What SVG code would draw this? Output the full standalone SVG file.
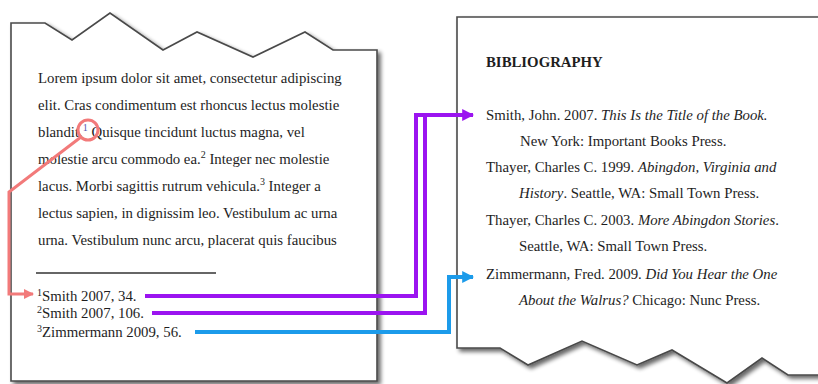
<svg xmlns="http://www.w3.org/2000/svg" width="818" height="384" viewBox="0 0 818 384">
  <style>
    .page { fill: #ffffff; stroke: #4a4a4a; stroke-width: 1.6; stroke-linejoin: miter; }
    .txt { font-family: "Liberation Serif", "Times New Roman", serif; font-size: 14.8px; fill: #1e1e1e; }
    .bold { font-weight: bold; }
    .it { font-style: italic; }
    .sup { font-size: 10px; }
    .rule { stroke: #333; stroke-width: 1.5; }
    .purple { fill: none; stroke: #9b14f0; stroke-width: 4; }
    .blue { fill: none; stroke: #1c9bea; stroke-width: 4; }
    .pink { fill: none; stroke: #f27a7a; stroke-width: 3; }
  </style>
  <defs>
    <filter id="shadow" x="-10%" y="-10%" width="120%" height="120%">
      <feGaussianBlur in="SourceAlpha" stdDeviation="2"/>
      <feOffset dx="3" dy="3" result="b"/>
      <feComponentTransfer><feFuncA type="linear" slope="0.6"/></feComponentTransfer>
      <feMerge><feMergeNode/><feMergeNode in="SourceGraphic"/></feMerge>
    </filter>
    <marker id="arPurple" viewBox="0 0 10 10" refX="9" refY="5" markerWidth="3" markerHeight="3" markerUnits="strokeWidth" orient="auto">
      <path d="M0,0 L10,5 L0,10 Z" fill="#9b14f0"/>
    </marker>
    <marker id="arBlue" viewBox="0 0 10 10" refX="9" refY="5" markerWidth="3" markerHeight="3" markerUnits="strokeWidth" orient="auto">
      <path d="M0,0 L10,5 L0,10 Z" fill="#1c9bea"/>
    </marker>
    <marker id="arPink" viewBox="0 0 10 10" refX="9" refY="5" markerWidth="3.4" markerHeight="3.4" markerUnits="strokeWidth" orient="auto">
      <path d="M0,0 L10,5 L0,10 Z" fill="#f27a7a"/>
    </marker>
  </defs>
  <rect width="818" height="384" fill="#ffffff"/>

  <g id="text-page">
    <path class="page" filter="url(#shadow)" d="M11,23 L45,23 L72,40 L110,13 L163,50 L197,32 L253,57 L305,32 L333,50 L377,50 L377,381 L11,381 Z"/>
    <text class="txt" x="38" y="83">Lorem ipsum dolor sit amet, consectetur adipiscing</text>
    <text class="txt" x="38" y="110">elit. Cras condimentum est rhoncus lectus molestie</text>
    <text class="txt" x="38" y="137">blandit.<tspan class="sup" dy="-6" fill="#5a55b0">1</tspan><tspan dy="6"> Quisque tincidunt luctus magna, vel</tspan></text>
    <text class="txt" x="38" y="164">molestie arcu commodo ea.<tspan class="sup" dy="-6">2</tspan><tspan dy="6"> Integer nec molestie</tspan></text>
    <text class="txt" x="38" y="191">lacus. Morbi sagittis rutrum vehicula.<tspan class="sup" dy="-6">3</tspan><tspan dy="6"> Integer a</tspan></text>
    <text class="txt" x="38" y="218">lectus sapien, in dignissim leo. Vestibulum ac urna</text>
    <text class="txt" x="38" y="245">urna. Vestibulum nunc arcu, placerat quis faucibus</text>
    <line class="rule" x1="36" y1="273" x2="216" y2="273"/>
    <text class="txt" x="37" y="301"><tspan class="sup" dy="-5">1</tspan><tspan dy="5">Smith 2007, 34.</tspan></text>
    <text class="txt" x="37" y="318"><tspan class="sup" dy="-5">2</tspan><tspan dy="5">Smith 2007, 106.</tspan></text>
    <text class="txt" x="37" y="337"><tspan class="sup" dy="-5">3</tspan><tspan dy="5">Zimmermann 2009, 56.</tspan></text>
  </g>

  <g id="bibliography-page">
    <path class="page" filter="url(#shadow)" d="M457,17 L830,17 L830,375 L788,375 L762,358 L727,383 L672,350 L637,365 L582,341 L528,365 L500,348 L457,348 Z"/>
    <text class="txt bold" x="486" y="67">BIBLIOGRAPHY</text>
    <text class="txt" x="486" y="120">Smith, John. 2007. <tspan class="it">This Is the Title of the Book.</tspan></text>
    <text class="txt" x="520" y="146">New York: Important Books Press.</text>
    <text class="txt" x="486" y="172">Thayer, Charles C. 1999. <tspan class="it">Abingdon, Virginia and</tspan></text>
    <text class="txt" x="519" y="198"><tspan class="it">History</tspan>. Seattle, WA: Small Town Press.</text>
    <text class="txt" x="486" y="225">Thayer, Charles C. 2003. <tspan class="it">More Abingdon Stories</tspan>.</text>
    <text class="txt" x="519" y="251">Seattle, WA: Small Town Press.</text>
    <text class="txt" x="486" y="279">Zimmermann, Fred. 2009. <tspan class="it">Did You Hear the One</tspan></text>
    <text class="txt" x="519" y="305"><tspan class="it">About the Walrus?</tspan> Chicago: Nunc Press.</text>
  </g>

  <g id="connectors">
    <circle class="pink" cx="88" cy="130" r="10"/>
    <path class="pink" d="M81,137 L9,192 L9,294 L33,294" marker-end="url(#arPink)"/>
    <path class="purple" d="M145,296 H416 V115 H473" marker-end="url(#arPurple)"/>
    <path class="purple" d="M152,313 H425 V115"/>
    <path class="blue" d="M195,332 H449 V277 H473" marker-end="url(#arBlue)"/>
  </g>
</svg>
